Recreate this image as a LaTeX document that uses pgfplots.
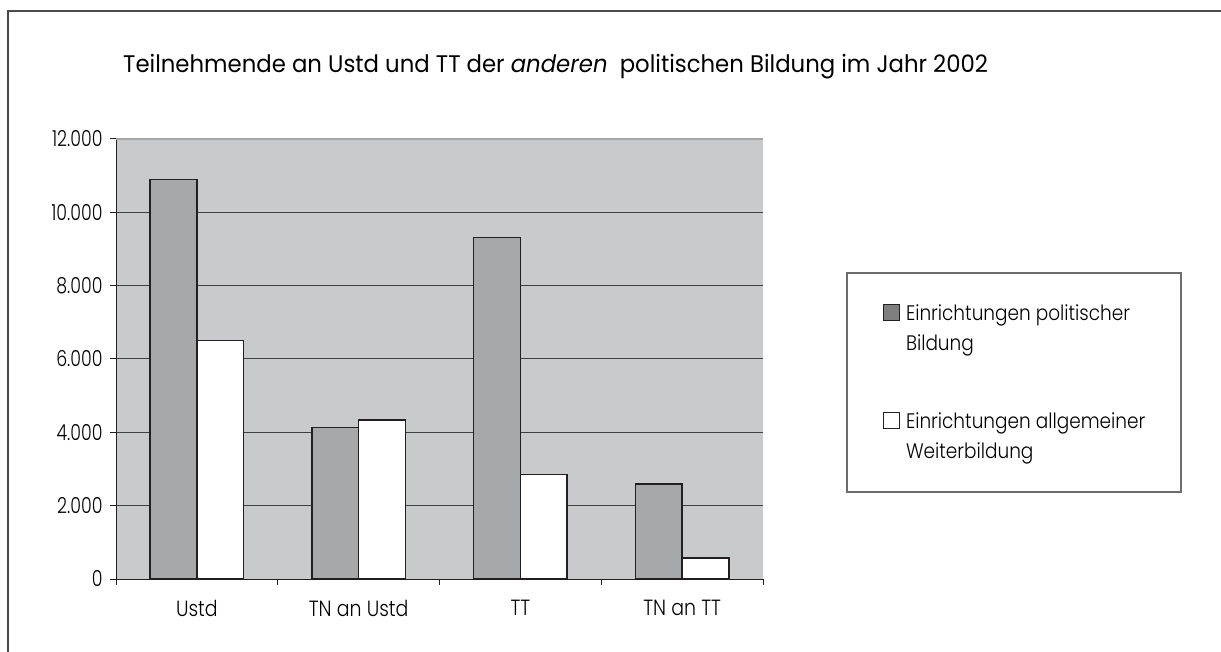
\documentclass[border=0pt]{standalone}
\usepackage{pgfplots}
\pgfplotsset{compat=1.18}
\usepackage{fontspec}
\setmainfont{Poppins}
\newfontfamily\titlefont{Poppins}[FakeStretch=0.95]
\newfontfamily\lightfont{Poppins}[UprightFont={* Light}, FakeStretch=0.88]
\newfontfamily\numfont{Poppins}[UprightFont={* Light}, FakeStretch=0.79]
\newfontfamily\xlabfont{Poppins}[UprightFont={* Light}, FakeStretch=0.86]
\definecolor{plotbg}{HTML}{C9CACC}
\definecolor{bardark}{HTML}{A7A8AA}
\definecolor{legdark}{HTML}{7F7F7F}
\definecolor{edge}{HTML}{231F20}
\definecolor{gridc}{HTML}{404040}
\definecolor{framec}{HTML}{4A4A4A}
\begin{document}
\begin{tikzpicture}[x=1pt,y=1pt]
\useasboundingbox (0,0) rectangle (1221,651);
\draw[framec, line width=1.5pt] (8,-2) -- (8,640) -- (1225,640);
\node[anchor=base west, inner sep=0pt, font=\titlefont\fontsize{24}{28}\selectfont] at (123,578)
  {Teilnehmende an Ustd und TT der \textit{anderen}\ \ politischen Bildung im Jahr 2002};
\draw[gray!85!black, line width=1.2pt] (847,159) rectangle (1181,378);
\begin{axis}[
  at={(116pt,72pt)}, anchor=south west,
  scale only axis, width=647pt, height=440pt,
  xmin=-0.5, xmax=3.5, ymin=0, ymax=12000,
  axis background/.style={fill=plotbg},
  axis x line*=bottom, axis y line*=left,
  axis line style={edge, line width=1pt},
  tick align=outside,
  major tick length=6pt, minor tick length=6pt,
  tick style={edge, line width=1pt},
  xtick={0,1,2,3},
  xticklabels={Ustd, TN an Ustd, TT, TN an TT},
  major x tick style={draw=none},
  minor xtick={-0.5,0.5,1.5,2.5,3.5},
  ytick={0,2000,...,12000},
  scaled y ticks=false,
  yticklabel style={font=\numfont\fontsize{22}{26}\selectfont, xshift=-4pt, /pgf/number format/.cd, fixed, 1000 sep={.}},
  xticklabel style={font=\xlabfont\fontsize{22}{26}\selectfont, yshift=-12pt},
  /pgf/number format/assume math mode=true,
  ymajorgrids, grid style={gridc, line width=1pt},
  ybar=0pt, bar width=46.7pt,
  legend style={at={(axis description cs:1.18547,0.6341)}, anchor=north west,
    draw=none, fill=none, inner sep=0pt, outer sep=0pt, column sep=6pt, row sep=85pt,
    nodes={inner sep=0pt, anchor=base west, font=\lightfont\fontsize{21}{30}\selectfont}},
  legend cell align=left,
]
\addplot[fill=bardark, draw=edge, line width=1.6pt,
  legend image code/.code={\draw[fill=legdark, draw=edge, line width=1pt] (0pt,0pt) rectangle (16pt,16pt);}]
  coordinates {(0,10890) (1,4130) (2,9310) (3,2590)};
\addlegendentry{\begin{tabular}[t]{@{}l@{}}Einrichtungen politischer\\Bildung\end{tabular}}
\addplot[fill=white, draw=edge, line width=1.6pt,
  legend image code/.code={\draw[fill=white, draw=edge, line width=1pt] (0pt,0pt) rectangle (16pt,16pt);}]
  coordinates {(0,6500) (1,4330) (2,2850) (3,570)};
\addlegendentry{\begin{tabular}[t]{@{}l@{}}Einrichtungen allgemeiner\\Weiterbildung\end{tabular}}
\draw[gray!70, line width=1.2pt] (rel axis cs:0,1) -- (rel axis cs:1,1);
\draw[gray!40, line width=1pt] (rel axis cs:1,1) -- (rel axis cs:1,0);
\end{axis}
\end{tikzpicture}
\end{document}
